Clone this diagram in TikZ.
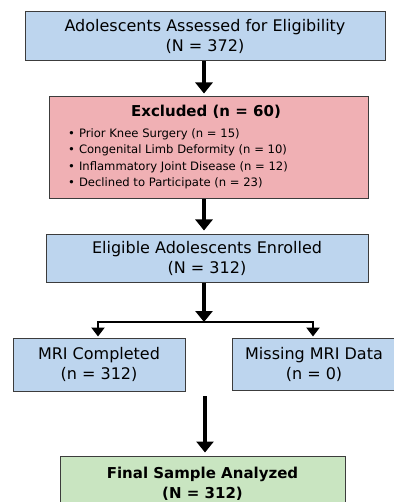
\documentclass[tikz,border=0pt]{standalone}
\usepackage{fontspec}
\setmainfont{DejaVu Sans}
\usetikzlibrary{arrows.meta}
\definecolor{bluefill}{HTML}{BDD5EE}
\definecolor{redfill}{HTML}{F0B0B4}
\definecolor{greenfill}{HTML}{C9E5C1}
\definecolor{edge}{HTML}{3C3C3C}
\tikzset{
  box/.style={draw=edge, line width=1pt, inner sep=0pt, align=center, font=\fontsize{16}{20}\selectfont},
  bluebox/.style={box, fill=bluefill},
  redbox/.style={box, fill=redfill},
  greenbox/.style={box, fill=greenfill, font=\fontsize{15}{20}\selectfont\bfseries},
  flow/.style={line width=3.6pt, -{Triangle[width=17pt,length=11pt]}, shorten >=3pt},
  branch/.style={line width=2.8pt, -{Triangle[width=13pt,length=9pt]}, shorten >=1pt},
  bul/.style={anchor=west, inner sep=0pt, font=\fontsize{11.6}{14}\selectfont},
}
\begin{document}
\begin{tikzpicture}[x=1pt,y=-1pt]
\useasboundingbox (0,0) rectangle (393,502);
\node[bluebox, minimum width=360pt, minimum height=49pt] (assess) at (205,36.5)
  {\raisebox{-2pt}{\shortstack{Adolescents Assessed for Eligibility\\[2pt](N = 372)}}};
\node[redbox, minimum width=319pt, minimum height=102pt] (excl) at (208.5,148) {};
\node[inner sep=0pt, font=\fontsize{15}{17}\selectfont\bfseries] (exclt) at (206,112) {Excluded (n = 60)};
\node[bul] (b1) at (68,134) {\textbullet\hspace{4pt}Prior Knee Surgery (n = 15)};
\node[bul] (b2) at (68,150.5) {\textbullet\hspace{4pt}Congenital Limb Deformity (n = 10)};
\node[bul] (b3) at (68,167) {\textbullet\hspace{4pt}Inflammatory Joint Disease (n = 12)};
\node[bul] (b4) at (68,183.5) {\textbullet\hspace{4pt}Declined to Participate (n = 23)};
\node[bluebox, minimum width=322pt, minimum height=48pt] (enrol) at (207,258)
  {Eligible Adolescents Enrolled\\(N = 312)};
\node[bluebox, minimum width=172pt, minimum height=53pt] (mri) at (99,364.5)
  {MRI Completed\\(n = 312)};
\node[bluebox, minimum width=164pt, minimum height=52pt] (miss) at (314,364)
  {Missing MRI Data\\(n = 0)};
\node[greenbox, minimum width=285pt, minimum height=56pt] (final) at (202.5,484)
  {Final Sample Analyzed\\(N = 312)};
\coordinate (split) at (204,322);
\coordinate (sl) at (98,322);
\coordinate (sr) at (313,322);
\coordinate (gapstart) at (205,396);
\draw[flow] (assess.south -| 204,0) -- (excl.north -| 204,0);
\draw[flow] (excl.south -| 204,0) -- (enrol.north -| 204,0);
\draw[flow, shorten >=0pt] (enrol.south -| split) -- (split);
\draw[line width=2.8pt, line cap=rect] (sl) -- (sr);
\draw[branch] (sl) -- (mri.north -| sl);
\draw[branch] (sr) -- (miss.north -| sr);
\draw[flow] (gapstart) -- (final.north -| gapstart);
\end{tikzpicture}
\end{document}
